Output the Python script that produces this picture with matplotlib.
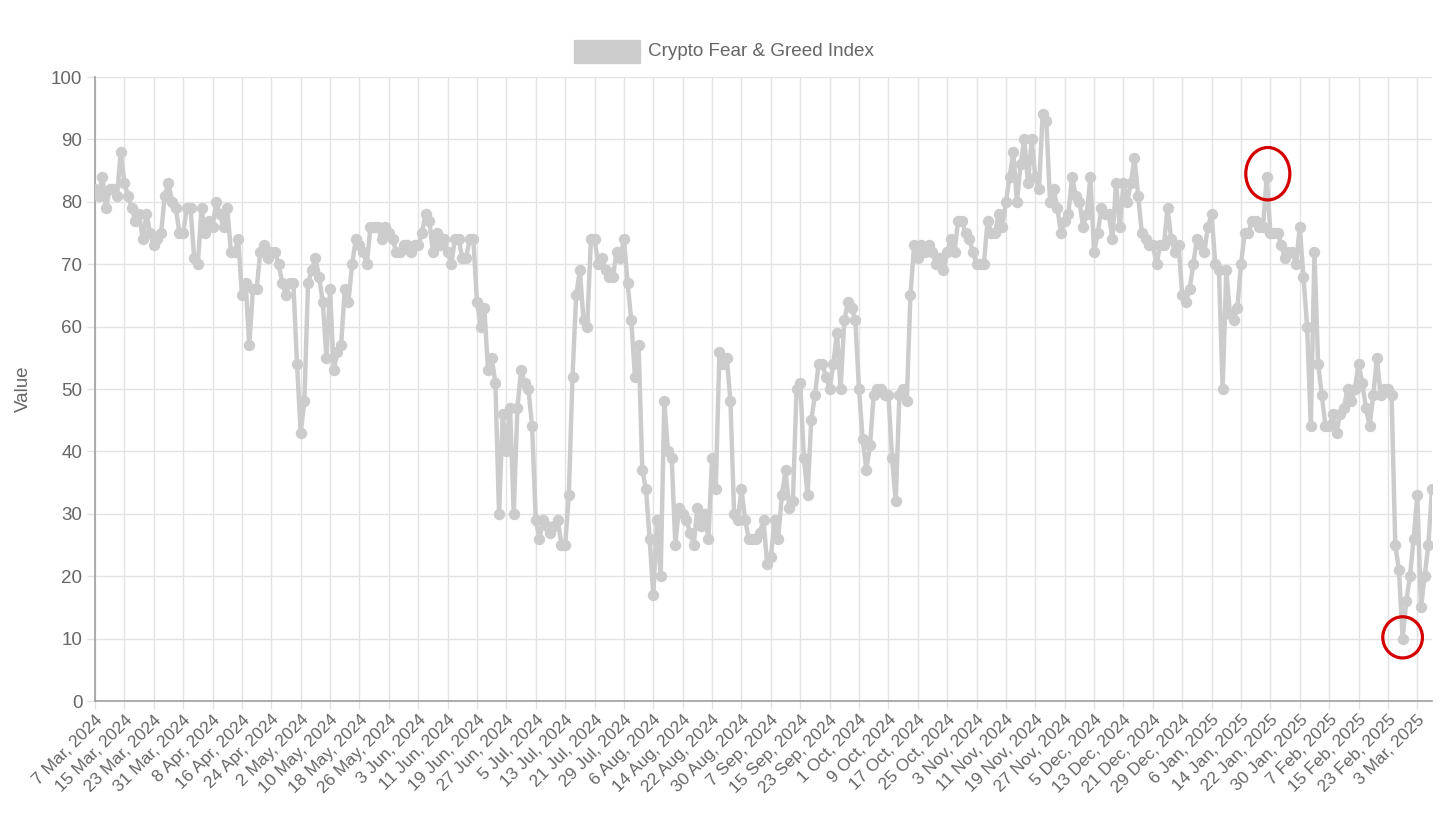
import matplotlib
matplotlib.use("Agg")
import matplotlib.pyplot as plt
from matplotlib.patches import Ellipse, Rectangle
import numpy as np

plt.rcParams['font.family'] = ['Liberation Sans', 'DejaVu Sans']

# Daily Crypto Fear & Greed Index values (7 Mar 2024 -> 7 Mar 2025)
values = [
    82, 81, 84, 79, 82, 82, 81, 88,
    83, 81, 79, 77, 78, 74, 78, 75,
    73, 74, 75, 81, 83, 80, 79, 75,
    75, 79, 79, 71, 70, 79, 75, 77,
    76, 80, 78, 76, 79, 72, 72, 74,
    65, 67, 57, 66, 66, 72, 73, 71,
    72, 72, 70, 67, 65, 67, 67, 54,
    43, 48, 67, 69, 71, 68, 64, 55,
    66, 53, 56, 57, 66, 64, 70, 74,
    73, 72, 70, 76, 76, 76, 74, 76,
    75, 74, 72, 72, 73, 73, 72, 73,
    73, 75, 78, 77, 72, 75, 73, 74,
    72, 70, 74, 74, 71, 71, 74, 74,
    64, 60, 63, 53, 55, 51, 30, 46,
    40, 47, 30, 47, 53, 51, 50, 44,
    29, 26, 29, 28, 27, 28, 29, 25,
    25, 33, 52, 65, 69, 61, 60, 74,
    74, 70, 71, 69, 68, 68, 72, 71,
    74, 67, 61, 52, 57, 37, 34, 26,
    17, 29, 20, 48, 40, 39, 25, 31,
    30, 29, 27, 25, 31, 28, 30, 26,
    39, 34, 56, 54, 55, 48, 30, 29,
    34, 29, 26, 26, 26, 27, 29, 22,
    23, 29, 26, 33, 37, 31, 32, 50,
    51, 39, 33, 45, 49, 54, 54, 52,
    50, 54, 59, 50, 61, 64, 63, 61,
    50, 42, 37, 41, 49, 50, 50, 49,
    49, 39, 32, 49, 50, 48, 65, 73,
    71, 73, 72, 73, 72, 70, 71, 69,
    72, 74, 72, 77, 77, 75, 74, 72,
    70, 70, 70, 77, 75, 75, 78, 76,
    80, 84, 88, 80, 86, 90, 83, 90,
    84, 82, 94, 93, 80, 82, 79, 75,
    77, 78, 84, 81, 80, 76, 78, 84,
    72, 75, 79, 78, 78, 74, 83, 76,
    83, 80, 83, 87, 81, 75, 74, 73,
    73, 70, 73, 73, 79, 74, 72, 73,
    65, 64, 66, 70, 74, 73, 72, 76,
    78, 70, 69, 50, 69, 62, 61, 63,
    70, 75, 75, 77, 77, 76, 76, 84,
    75, 75, 75, 73, 71, 72, 72, 70,
    76, 68, 60, 44, 72, 54, 49, 44,
    44, 46, 43, 46, 47, 50, 48, 50,
    54, 51, 47, 44, 49, 55, 49, 50,
    50, 49, 25, 21, 10, 16, 20, 26,
    33, 15, 20, 25, 34,
]

tick_labels = [
    "7 Mar, 2024", "15 Mar, 2024", "23 Mar, 2024", "31 Mar, 2024", "8 Apr, 2024",
    "16 Apr, 2024", "24 Apr, 2024", "2 May, 2024", "10 May, 2024", "18 May, 2024",
    "26 May, 2024", "3 Jun, 2024", "11 Jun, 2024", "19 Jun, 2024", "27 Jun, 2024",
    "5 Jul, 2024", "13 Jul, 2024", "21 Jul, 2024", "29 Jul, 2024", "6 Aug, 2024",
    "14 Aug, 2024", "22 Aug, 2024", "30 Aug, 2024", "7 Sep, 2024", "15 Sep, 2024",
    "23 Sep, 2024", "1 Oct, 2024", "9 Oct, 2024", "17 Oct, 2024", "25 Oct, 2024",
    "3 Nov, 2024", "11 Nov, 2024", "19 Nov, 2024", "27 Nov, 2024", "5 Dec, 2024",
    "13 Dec, 2024", "21 Dec, 2024", "29 Dec, 2024", "6 Jan, 2025", "14 Jan, 2025",
    "22 Jan, 2025", "30 Jan, 2025", "7 Feb, 2025", "15 Feb, 2025", "23 Feb, 2025",
    "3 Mar, 2025",
]
tick_step = 8
series_label = "Crypto Fear & Greed Index"
y_label = "Value"

W, H = 1456, 818
fig = plt.figure(figsize=(W / 100, H / 100), dpi=100)
ax = fig.add_axes([95 / W, 1 - 701 / H, (1432 - 95) / W, (701 - 77) / H])

x = np.arange(len(values))
line_color = '#cccccc'
ax.plot(x, values, color=line_color, linewidth=3.2, marker='o', markersize=7.2,
        markerfacecolor=line_color, markeredgecolor=line_color, zorder=3,
        solid_joinstyle='round')

ax.set_xlim(0, len(values) - 1)
ax.set_ylim(0, 100)
ax.set_yticks(np.arange(0, 101, 10))
ax.set_xticks(np.arange(0, len(tick_labels) * tick_step, tick_step))
ax.set_xticklabels(tick_labels, rotation=45, ha='right', rotation_mode='anchor')

grid_c = '#e3e3e3'
ax.grid(True, color=grid_c, linewidth=1.0, zorder=0)
ax.set_axisbelow(True)
for s in ['top', 'right']:
    ax.spines[s].set_visible(False)
for s in ['left', 'bottom']:
    ax.spines[s].set_color('#a0a0a0')
    ax.spines[s].set_linewidth(1.2)
ax.tick_params(axis='both', length=6, color=grid_c, labelcolor='#666666',
               labelsize=12.5, width=1.0)
ax.tick_params(axis='y', pad=3, labelsize=13.5)
ax.tick_params(axis='x', pad=2)

ax.set_ylabel(y_label, color='#666666', fontsize=13.5, labelpad=14)

# red highlight circles around the January peak and the late-February low
jan_seg = slice(300, 330)
i_peak = 300 + int(np.argmax(values[jan_seg]))
i_low = int(np.argmin(values))
ax.add_patch(Ellipse((i_peak + 0.3, values[i_peak] + 0.5), 12.0, 8.4, fill=False,
                     edgecolor='#d40000', linewidth=2.3, zorder=5, clip_on=False))
ax.add_patch(Ellipse((i_low, values[i_low] + 0.2), 10.8, 6.6, fill=False,
                     edgecolor='#d40000', linewidth=2.3, zorder=5, clip_on=False))

# legend (Chart.js-style, top centre)
fig.patches.append(Rectangle((574 / W, 1 - 63 / H), 66 / W, 23 / H,
                             transform=fig.transFigure, facecolor=line_color,
                             edgecolor=line_color, linewidth=1))
fig.text(648 / W, 1 - 51 / H, series_label, color='#666666', fontsize=13.6,
         va='center', ha='left')

fig.savefig('out.png', dpi=100, facecolor='white')
